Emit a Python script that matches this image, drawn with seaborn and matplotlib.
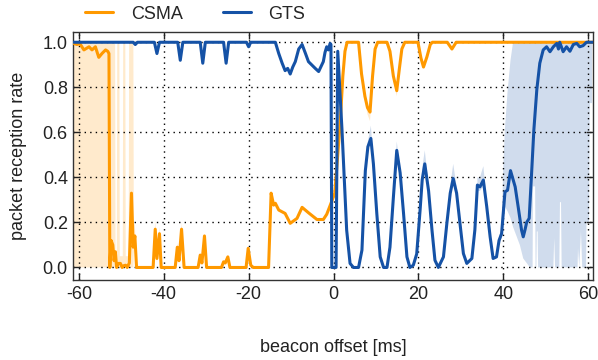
import numpy as np
import pandas as pd
import matplotlib
matplotlib.use('Agg')
import matplotlib.pyplot as plt
import seaborn as sns

# --- data (x = beacon offset in ms) ---
csma_x = [-61.2, -60.4, -59.8, -58.8, -57.6, -56.9, -56.1, -55.3, -54.5, -53.7, -53.2, -52.9,
          -52.7, -52.4, -52.0, -51.7, -51.4, -51.1, -50.7, -50.2, -49.8, -49.4, -49.0, -48.6,
          -48.1, -47.6, -47.2, -46.8, -46.4, -42.5, -42.0, -41.6, -41.0, -40.6, -37.3, -36.8,
          -36.4, -35.8, -35.2, -31.9, -31.4, -31.0, -30.4, -29.9, -26.4, -25.9, -25.5, -24.9,
          -24.4, -20.6, -20.1, -19.5, -18.9, -15.3, -14.7, -14.1, -13.7, -12.9, -11.4, -10.2,
          -8.6, -7.4, -5.9, -3.9, -2.4, -1.6, -0.9, 0.3, 1.0, 1.6, 2.2, 2.7, 3.2,
          5.9, 6.6, 7.4, 8.0, 8.6, 9.2, 9.8, 10.4, 12.6, 13.3, 14.1, 14.9, 15.5, 16.1, 16.8,
          19.9, 20.6, 21.2, 22.0, 22.8, 23.3, 26.8, 27.9, 28.9, 61.2]
csma_y = [0.995, 0.99, 0.995, 0.966, 0.98, 0.966, 0.98, 0.933, 0.951, 0.966, 0.96, 0.95,
          0.0, 0.12, 0.10, 0.03, 0.07, 0.0, 0.018, 0.018, 0.0, 0.008, 0.01, 0.0,
          0.02, 0.33, 0.09, 0.14, 0.0, 0.0, 0.17, 0.04, 0.15, 0.0, 0.0, 0.09,
          0.03, 0.17, 0.0, 0.0, 0.055, 0.02, 0.14, 0.0, 0.0, 0.025, 0.02, 0.047,
          0.0, 0.0, 0.085, 0.01, 0.0, 0.0, 0.33, 0.277, 0.285, 0.255, 0.24, 0.196,
          0.218, 0.267, 0.243, 0.213, 0.213, 0.236, 0.27, 0.33, 0.5, 0.65, 0.85, 0.96, 1.0,
          1.0, 0.86, 0.76, 0.71, 0.69, 0.85, 0.97, 1.0, 1.0, 0.96, 0.85, 0.785, 0.88, 0.97, 1.0,
          1.0, 0.93, 0.89, 0.935, 0.99, 1.0, 1.0, 0.97, 1.0, 1.0]

gts_x = [-61.2, -47.2, -46.7, -46.2, -42.2, -41.6, -41.0, -36.7, -36.1, -35.5, -31.4, -30.8,
         -30.2, -25.9, -25.3, -24.7, -20.5, -20.0, -19.5, -13.7, -12.9, -12.1, -11.4, -10.8,
         -10.2, -9.6, -9.0, -8.2, -7.4, -6.6, -5.9, -5.1, -4.3, -3.5, -3.0, -2.4, -2.0, -1.6,
         -1.2, -0.8, -0.6, -0.4, 0.6, 1.0, 2.0, 3.1, 3.9, 4.7, 5.9, 6.7, 7.5, 8.1, 8.8, 9.4,
         10.2, 11.0, 11.8, 12.6, 13.3, 14.1, 14.9, 15.7, 16.5, 17.3, 18.0, 18.8, 19.6, 20.4,
         20.9, 21.5, 22.4, 23.2, 23.9, 24.7, 25.9, 26.7, 27.5, 28.2, 29.0, 29.8, 30.6, 31.4,
         32.6, 33.3, 33.9, 34.5, 35.3, 36.1, 36.9, 37.6, 38.4, 39.0, 39.6, 40.4, 41.0, 41.7,
         42.8, 43.5, 44.3, 44.7, 45.1, 45.5, 46.1, 46.7, 47.2, 47.9, 48.6, 49.4, 50.2, 51.0,
         51.8, 52.6, 53.0, 53.3, 54.1, 54.9, 55.7, 56.5, 57.3, 58.0, 58.8, 59.6, 61.2]
gts_y = [1.0, 1.0, 0.99, 1.0, 1.0, 0.95, 1.0, 1.0, 0.92, 1.0, 1.0, 0.907,
         1.0, 1.0, 0.907, 1.0, 1.0, 0.98, 1.0, 1.0, 0.95, 0.907, 0.874, 0.884,
         0.859, 0.89, 0.914, 0.97, 0.99, 0.95, 0.914, 0.899, 0.884, 0.87, 0.89, 0.914, 0.955, 0.98,
         0.966, 0.995, 0.99, 0.0, 0.0, 0.96, 0.61, 0.166, 0.018, 0.0, 0.0, 0.077, 0.43, 0.536, 0.573, 0.46,
         0.24, 0.047, 0.0, 0.0, 0.09, 0.31, 0.52, 0.42, 0.24, 0.047, 0.0, 0.01, 0.06, 0.255,
         0.39, 0.46, 0.34, 0.166, 0.032, 0.0, 0.047, 0.195, 0.33, 0.395, 0.33, 0.195, 0.062, 0.018,
         0.04, 0.166, 0.366, 0.358, 0.388, 0.27, 0.136, 0.04, 0.047, 0.12, 0.15, 0.336, 0.343, 0.43,
         0.358, 0.27, 0.166, 0.136, 0.166, 0.2, 0.218, 0.43, 0.61, 0.79, 0.907, 0.966, 0.98, 0.958,
         0.98, 0.995, 0.97, 1.0, 0.958, 0.98, 0.96, 0.99, 0.995, 0.98, 0.985, 1.0, 1.0]

# confidence bands (NaN splits separate pieces)
nan = np.nan
csma_band_x = [-61.2, -51.45, -51.35, -51.05, -50.95, -50.45, -50.35, -49.65, -49.55, -49.05,
               -48.95, -48.25, -48.15, -47.15, -47.05, -46.8, -46.4, nan,
               -42.5, -42.0, -41.6, -41.0, -40.6, nan, -37.3, -36.8, -36.4, -35.8, -35.2, nan,
               7.4, 8.0, 8.6, 9.2, 9.8, nan, 14.1, 14.9, 15.5, nan]
csma_band_lo = [0, 0, 0, 0, 0, 0, 0, 0, 0, 0, 0, 0, 0, 0, 0.06, 0.10, 0.0, nan,
                0, 0.13, 0.02, 0.12, 0, nan, 0, 0.07, 0.02, 0.14, 0, nan,
                0.74, 0.68, 0.65, 0.82, 0.95, nan, 0.83, 0.76, 0.86, nan]
csma_band_hi = [1, 1, 0.05, 0.05, 1, 1, 0.05, 0.05, 1, 1, 0.05, 0.05, 1, 1, 0.2, 0.19, 0.02, nan,
                0, 0.21, 0.06, 0.18, 0, nan, 0, 0.11, 0.04, 0.2, 0, nan,
                0.77, 0.72, 0.7, 0.87, 0.98, nan, 0.86, 0.8, 0.89, nan]

gts_band_x = [7.5, 8.1, 8.8, 9.4, nan, 14.1, 14.9, 15.7, nan, 20.4, 20.9, 21.5, 22.4, nan,
              27.5, 28.2, 29.0, nan, 33.9, 34.5, 35.3, 36.1, nan,
              39.0, 39.6, 40.0, 40.4, 41.0, 41.7, 42.3, 43.1, 43.9, 44.7, 45.5, 46.3, 46.9, 47.0,
              47.5, 47.6, 47.8, 47.9, 48.1, 48.2, 51.8, 52.0, 52.2, 53.2, 53.35, 53.6, 53.75,
              57.5, 57.6, 57.9, 58.3, 58.6, 59.5, 59.6, 60.2, 60.4, 60.9]
gts_band_lo = [0.41, 0.52, 0.56, 0.44, nan, 0.29, 0.5, 0.4, nan, 0.24, 0.37, 0.44, 0.32, nan,
               0.31, 0.37, 0.31, nan, 0.34, 0.34, 0.36, 0.25, nan,
               0.1, 0.13, 0.2, 0.27, 0.25, 0.22, 0.18, 0.14, 0.1, 0.04, 0.02, 0.0, 0.0, 0.36,
               0.36, 0.0, 0.0, 0.16, 0.16, 0.0, 0.0, 0.13, 0.0, 0.0, 0.29, 0.29, 0.0,
               0.0, 0.085, 0.0, 0.16, 0.0, 0.0, 0.2, 0.2, 0.73, 0.73]
gts_band_hi = [0.45, 0.56, 0.63, 0.48, nan, 0.33, 0.56, 0.44, nan, 0.28, 0.44, 0.52, 0.37, nan,
               0.36, 0.46, 0.36, nan, 0.40, 0.40, 0.45, 0.30, nan,
               0.14, 0.17, 0.45, 0.62, 0.78, 0.92, 1.0, 1.0, 1.0, 1.0, 1.0, 1.0, 1.0, 1.0,
               1.0, 1.0, 1.0, 1.0, 1.0, 1.0, 1.0, 1.0, 1.0, 1.0, 1.0, 1.0, 1.0,
               1.0, 1.0, 1.0, 1.0, 1.0, 1.0, 1.0, 1.0, 1.0, 1.0]

orange = '#ff9900'
blue = '#1552a6'

df = pd.concat([
    pd.DataFrame({'offset': csma_x, 'prr': csma_y, 'mode': 'CSMA'}),
    pd.DataFrame({'offset': gts_x, 'prr': gts_y, 'mode': 'GTS'}),
])

sns.set_theme(style='ticks')
plt.rcParams['font.family'] = ['Liberation Sans', 'DejaVu Sans']
plt.rcParams['axes.unicode_minus'] = False

fig = plt.figure(figsize=(5.98, 3.6), dpi=100)
ax = fig.add_axes([0.1226, 0.222, 0.8695, 0.69])

ax.fill_between(csma_band_x, csma_band_lo, csma_band_hi, color=orange, alpha=0.2, lw=0, zorder=1)
ax.fill_between(gts_band_x, gts_band_lo, gts_band_hi, color=blue, alpha=0.2, lw=0, zorder=1)

sns.lineplot(data=df, x='offset', y='prr', hue='mode', palette=[orange, blue],
             linewidth=2.2, sort=False, estimator=None, ax=ax, zorder=3,
             solid_joinstyle='round', solid_capstyle='round')

ax.set_xlim(-61.3, 61.2)
ax.set_ylim(-0.056, 1.047)
ax.set_xticks(np.arange(-60, 61, 20))
ax.set_yticks(np.arange(0, 1.01, 0.2))
ax.set_yticklabels(['0.0', '0.2', '0.4', '0.6', '0.8', '1.0'])
ax.set_axisbelow('line')
ax.grid(True, color='black', linestyle=(0, (1, 3)), linewidth=1.0)
ax.tick_params(direction='in', top=True, right=True, length=5, width=1,
               labelsize=13, colors='#222222', pad=4)
for s in ax.spines.values():
    s.set_color('#333333')
    s.set_linewidth(1.0)

ax.set_xlabel('beacon offset [ms]', fontsize=13, labelpad=26, color='#222222')
ax.set_ylabel('packet reception rate', fontsize=13, labelpad=11, color='#222222')

ax.get_legend().remove()
h, l = ax.get_legend_handles_labels()
fig.legend(h, l, loc='center left', bbox_to_anchor=(0.142, 0.961), ncol=2, frameon=False,
           fontsize=13, handlelength=1.55, handletextpad=1.0, columnspacing=2.2,
           borderpad=0, borderaxespad=0)

fig.savefig('out.png', dpi=100)
